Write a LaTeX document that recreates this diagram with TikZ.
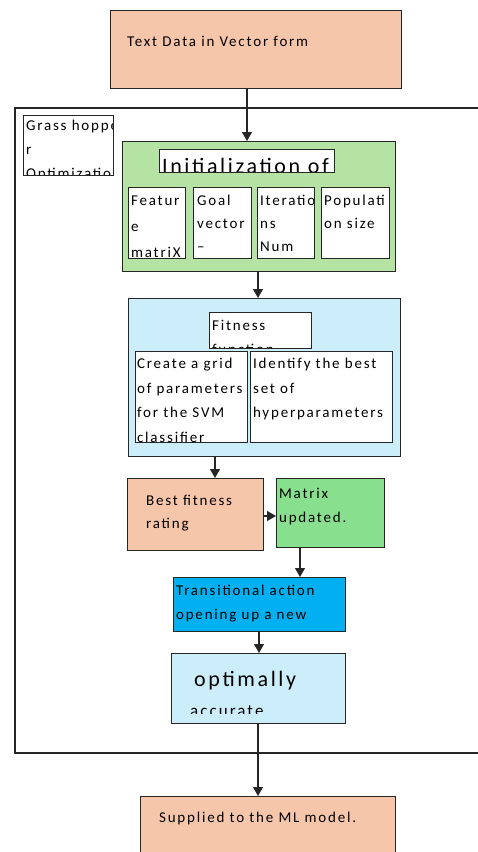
\documentclass[tikz,border=0pt]{standalone}
\usepackage{fontspec}
\setmainfont{Carlito}[LetterSpace=12]
\usetikzlibrary{arrows.meta}
\definecolor{salmon}{HTML}{F5C6AA}
\definecolor{initgreen}{HTML}{B5E3A3}
\definecolor{lightblue}{HTML}{CCEDFA}
\definecolor{matgreen}{HTML}{88E08E}
\definecolor{cyanbox}{HTML}{00B0F0}
\newcommand\lines[1]{\begin{tabular}[t]{@{}l@{}}#1\end{tabular}}
\tikzset{
  box/.style={draw=black!85, line width=1.1pt, rectangle, inner sep=0pt, anchor=north west},
  txt/.style={anchor=base west, inner sep=0pt, minimum width=0pt, minimum height=0pt, font=\fontsize{15}{24}\selectfont},
  arr/.style={draw=black!85, line width=1.1pt, -{Triangle[width=10pt,length=9pt]}},
  frame/.style={draw=black!85, line width=1.3pt}
}
% name, fill, position, width, height, text options, text
\newcommand\tbox[7]{%
  \node[box, fill=#2, minimum width=#4pt, minimum height=#5pt,
    path picture={\node[txt, #6] at (path picture bounding box.north west) {\lines{#7}};}] (#1) at #3 {};}
\begin{document}
\begin{tikzpicture}[x=1pt,y=-1pt]
\clip (0,0) rectangle (478,852);
\fill[white] (0,0) rectangle (478,852);
% outer frame
\draw[frame] (480,108) -- (15,108) -- (15,753) -- (480,753);
% boxes
\tbox{top}{salmon}{(110,10)}{291}{78}{xshift=16pt,yshift=-36pt}{Text Data in Vector form}
\tbox{grass}{white}{(23,115)}{90}{60}{xshift=2pt,yshift=-15pt,font=\fontsize{15}{24}\selectfont}{Grass hoppe\\r\\Optimizatio}
\node[box, fill=initgreen, minimum width=273pt, minimum height=130pt] (green) at (122,141) {};
\tbox{init}{white}{(159,149)}{175}{23}{xshift=2pt,yshift=-24pt,font=\fontsize{22}{28}\selectfont}{Initialization of}
\tbox{feat}{white}{(128,187)}{57}{71}{xshift=2pt,yshift=-18pt,font=\fontsize{15}{26}\selectfont}{Featur\\e\\matriX}
\tbox{goal}{white}{(193,187)}{58}{71}{xshift=3pt,yshift=-18pt,font=\fontsize{15}{23}\selectfont}{Goal\\vector\\--}
\tbox{iter}{white}{(257,187)}{57}{71}{xshift=2pt,yshift=-18pt,font=\fontsize{15}{23}\selectfont}{Iteratio\\ns\\Num}
\tbox{pop}{white}{(321,187)}{68}{71}{xshift=2pt,yshift=-18pt,font=\fontsize{15}{23}\selectfont}{Populati\\on size}
\node[box, fill=lightblue, minimum width=272pt, minimum height=158pt] (blue) at (128,298) {};
\tbox{fit}{white}{(209,312)}{102}{36}{xshift=2pt,yshift=-18pt}{Fitness\\function}
\tbox{create}{white}{(135,351)}{112}{91}{xshift=1pt,yshift=-17pt,font=\fontsize{15}{24.5}\selectfont}{Create a grid\\of parameters\\for the SVM\\classifier}
\tbox{ident}{white}{(250,351)}{142}{91}{xshift=2pt,yshift=-17pt,font=\fontsize{15}{24.5}\selectfont}{Identify the best\\set of\\hyperparameters}
\tbox{best}{salmon}{(127,478)}{136}{72}{xshift=18pt,yshift=-27pt,font=\fontsize{15}{23}\selectfont}{Best fitness\\rating}
\tbox{matrix}{matgreen}{(276,478)}{108}{69}{xshift=2pt,yshift=-20pt}{Matrix\\updated.}
\tbox{trans}{cyanbox}{(173,577)}{172}{54}{xshift=2pt,yshift=-18pt}{Transitional action\\opening up a new}
\node[box, fill=lightblue, minimum width=174pt, minimum height=70pt] (opt) at (171,653) {};
\begin{scope}
  \clip (178,660) rectangle (340,713);
  \node[txt, font=\fontsize{22}{31}\selectfont] (opttext1) at (194,686) {optimally};
  \node[txt, font=\fontsize{17}{31}\selectfont] (opttext2) at (190,716) {accurate};
\end{scope}
\tbox{supp}{salmon}{(140,796)}{255}{70}{xshift=18pt,yshift=-26pt}{Supplied to the ML model.}
% connectors
\coordinate (c1) at (247,0);
\coordinate (c2) at (258,0);
\coordinate (c3) at (215,0);
\coordinate (c4) at (0,516);
\coordinate (c5) at (300,0);
\coordinate (c6) at (259,0);
\draw[arr] (c1 |- top.south) -- (c1 |- green.north);
\draw[arr] (c2 |- green.south) -- (c2 |- blue.north);
\draw[arr] (c3 |- blue.south) -- (c3 |- best.north);
\draw[arr] (best.east |- c4) -- (matrix.west |- c4);
\draw[arr] (c5 |- matrix.south) -- (c5 |- trans.north);
\draw[arr] (c6 |- trans.south) -- (c6 |- opt.north);
\draw[arr] (c2 |- opt.south) -- (c2 |- supp.north);
\end{tikzpicture}
\end{document}
